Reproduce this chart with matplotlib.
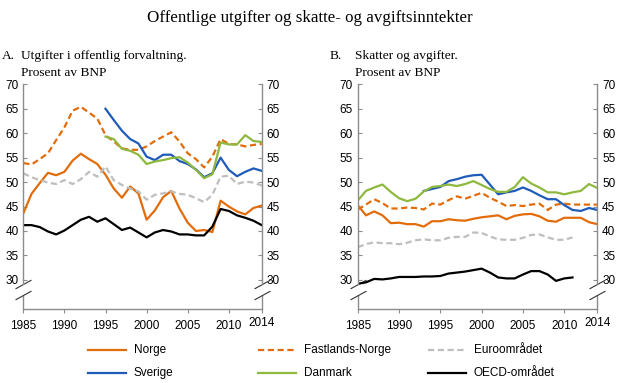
import matplotlib
matplotlib.use("Agg")
import matplotlib.pyplot as plt
from matplotlib.transforms import blended_transform_factory, ScaledTranslation
from matplotlib.lines import Line2D

years = list(range(1985, 2015))
years_se = list(range(1995, 2015))
years_se_b = list(range(1993, 2015))
years_short = list(range(1985, 2012))

# Panel A: Utgifter i offentlig forvaltning (prosent av BNP)
a_norge = [43.6, 47.6, 49.8, 51.9, 51.4, 52.1, 54.4, 55.8, 54.7, 53.7,
           51.5, 48.7, 46.8, 49.1, 47.7, 42.3, 44.2, 46.9, 48.2, 44.6,
           41.7, 40.0, 40.2, 39.8, 46.2, 45.0, 44.0, 43.4, 44.7, 45.2]
a_fastland = [53.9, 53.6, 54.7, 55.9, 58.6, 61.2, 64.6, 65.4, 64.2, 63.0,
              59.6, 58.3, 56.9, 56.6, 56.6, 57.3, 58.4, 59.3, 60.2, 58.3,
              55.9, 54.7, 53.0, 55.2, 58.8, 57.8, 57.7, 57.3, 57.6, 57.8]
a_euro = [51.8, 51.0, 50.4, 49.9, 49.6, 50.4, 49.6, 50.6, 52.1, 51.1,
          53.2, 50.4, 49.4, 48.7, 48.1, 46.4, 47.4, 47.7, 48.1, 47.6,
          47.4, 46.7, 45.9, 47.4, 51.1, 51.3, 49.6, 50.1, 49.9, 49.3]
a_oecd = [41.2, 41.2, 40.8, 39.9, 39.3, 40.1, 41.2, 42.3, 42.9, 41.9,
          42.6, 41.4, 40.2, 40.7, 39.7, 38.7, 39.7, 40.2, 39.9, 39.3,
          39.3, 39.1, 39.1, 40.9, 44.5, 44.1, 43.2, 42.7, 42.1, 41.2]
a_sverige = [65.0, 62.7, 60.5, 58.8, 57.9, 55.2, 54.5, 55.6, 55.6, 54.3,
             53.7, 52.6, 51.0, 51.8, 55.0, 52.5, 51.2, 52.1, 52.8, 52.3]
a_danmark = [59.3, 58.8, 56.8, 56.4, 55.6, 53.7, 54.2, 54.5, 54.9, 55.1,
             54.0, 52.5, 50.8, 51.6, 58.1, 57.7, 57.7, 59.6, 58.4, 58.2]

# Panel B: Skatter og avgifter (prosent av BNP)
b_norge = [45.3, 43.2, 44.0, 43.2, 41.6, 41.7, 41.4, 41.4, 40.9, 42.0,
           42.0, 42.4, 42.2, 42.1, 42.5, 42.8, 43.0, 43.2, 42.4, 43.1,
           43.4, 43.5, 43.0, 42.1, 41.9, 42.7, 42.7, 42.7, 41.8, 41.4]
b_fastland = [44.4, 45.4, 46.5, 45.7, 44.6, 44.6, 44.8, 44.7, 44.4, 45.6,
              45.4, 46.3, 47.1, 46.6, 47.2, 47.8, 46.8, 46.0, 45.1, 45.3,
              45.1, 45.4, 45.6, 44.3, 45.4, 45.6, 45.4, 45.4, 45.4, 45.4]
b_euro = [36.7, 37.3, 37.7, 37.5, 37.5, 37.3, 37.6, 38.1, 38.3, 38.1,
          38.1, 38.6, 38.8, 38.8, 39.7, 39.6, 38.9, 38.3, 38.2, 38.2,
          38.6, 39.2, 39.3, 38.7, 38.2, 38.2, 38.7]
b_oecd = [29.2, 29.5, 30.2, 30.1, 30.3, 30.6, 30.6, 30.6, 30.7, 30.7,
          30.8, 31.3, 31.5, 31.7, 32.0, 32.3, 31.5, 30.5, 30.3, 30.3,
          31.1, 31.8, 31.8, 31.1, 29.8, 30.3, 30.5]
b_sverige = [48.2, 48.6, 49.0, 50.2, 50.6, 51.1, 51.4, 51.5, 49.5, 47.5,
             47.9, 48.2, 48.9, 48.2, 47.3, 46.5, 46.5, 45.3, 44.3, 44.1,
             44.7, 44.3]
b_danmark = [46.2, 48.2, 48.9, 49.5, 48.0, 46.7, 46.1, 46.6, 48.1, 49.0,
             49.2, 49.5, 49.2, 49.6, 50.2, 49.4, 48.6, 48.0, 48.0, 49.0,
             51.0, 49.7, 48.9, 47.9, 47.9, 47.5, 47.9, 48.2, 49.6, 48.8]

yticks = [30, 35, 40, 45, 50, 55, 60, 65, 70]
xticks = [1985, 1990, 1995, 2000, 2005, 2010, 2014]

title = "Offentlige utgifter og skatte- og avgiftsinntekter"
labels = ["Norge", "Fastlands-Norge", "Euroområdet",
          "Sverige", "Danmark", "OECD-området"]

c_norge = "#E36C0A"
c_sverige = "#1F5BB8"
c_danmark = "#8FB83E"
c_euro = "#BEBEBE"
c_oecd = "#000000"
c_spine = "#8C8C8C"
LW = 1.6
DASH = (2.8, 1.6)

plt.rcParams["font.family"] = ["Liberation Sans", "DejaVu Sans"]
serif = ["Liberation Serif", "DejaVu Serif"]

W, H = 620, 383
fig = plt.figure(figsize=(W / 100, H / 100), dpi=100)

top_px, bot_px = 84.3, 308.5
axA = fig.add_axes([23.3 / W, 1 - bot_px / H, (261.7 - 23.3) / W, (bot_px - top_px) / H])
axB = fig.add_axes([357.7 / W, 1 - bot_px / H, (597.3 - 357.7) / W, (bot_px - top_px) / H])

YMIN = 24.15
brk_hi, brk_lo = 29.15, 26.85


def style(ax):
    ax.set_xlim(1985, 2014)
    ax.set_ylim(YMIN, 70)
    ax.spines["top"].set_visible(False)
    for s in ["left", "right", "bottom"]:
        ax.spines[s].set_color(c_spine)
        ax.spines[s].set_linewidth(1.0)
    ax.spines["left"].set_bounds(brk_hi, 70)
    ax.spines["right"].set_bounds(brk_hi, 70)
    ax.set_yticks(yticks)
    ax.set_yticklabels([str(v) for v in yticks])
    ax.tick_params(axis="y", which="both", direction="in", length=3,
                   color=c_spine, left=True, right=True,
                   labelleft=True, labelright=True, labelsize=8.5, pad=3.5)
    ax.set_xticks(xticks)
    ax.set_xticklabels([str(v) for v in xticks])
    ax.tick_params(axis="x", direction="out", length=3, color=c_spine,
                   labelsize=8.5, pad=5)
    lab = ax.get_xticklabels()[-1]
    lab.set_transform(lab.get_transform() + ScaledTranslation(0, 3 / 100, fig.dpi_scale_trans))
    trans = blended_transform_factory(ax.transAxes, ax.transData)
    for xa in (0, 1):
        ax.plot([xa, xa], [YMIN, brk_lo], transform=trans, color=c_spine,
                lw=1.0, clip_on=False, solid_capstyle="butt")
        for yv in (brk_hi, brk_lo):
            ax.plot([xa], [yv], transform=trans, marker=[(-1, -0.55), (1, 0.55)],
                    markersize=11.5, mew=0.8, color="#333333", clip_on=False,
                    linestyle="none")


def draw(ax, norge, fastland, euro, oecd, sverige, danmark, yrs_se, yrs_short, yrs_dk):
    ax.plot(years, norge, color=c_norge, lw=LW, label=labels[0])
    ax.plot(years, fastland, color=c_norge, lw=LW, dashes=DASH, label=labels[1])
    ax.plot(yrs_short, euro, color=c_euro, lw=LW, dashes=DASH, label=labels[2])
    ax.plot(yrs_se, sverige, color=c_sverige, lw=LW, label=labels[3])
    ax.plot(yrs_dk, danmark, color=c_danmark, lw=LW, label=labels[4])
    ax.plot(yrs_short, oecd, color=c_oecd, lw=LW, label=labels[5])


style(axA)
style(axB)
draw(axA, a_norge, a_fastland, a_euro, a_oecd, a_sverige, a_danmark, years_se, years, years_se)
draw(axB, b_norge, b_fastland, b_euro, b_oecd, b_sverige, b_danmark, years_se_b, years_short, years)

fig.text(0.5, 1 - 18 / H, title, ha="center", va="center", fontsize=12.2, family=serif)
fs_sub = 9.6
fig.text(2 / W, 1 - 56 / H, "A.", ha="left", va="center", fontsize=fs_sub, family=serif)
fig.text(21 / W, 1 - 56 / H, "Utgifter i offentlig forvaltning.", ha="left", va="center", fontsize=fs_sub, family=serif)
fig.text(21 / W, 1 - 73 / H, "Prosent av BNP", ha="left", va="center", fontsize=fs_sub, family=serif)
fig.text(330 / W, 1 - 56 / H, "B.", ha="left", va="center", fontsize=fs_sub, family=serif)
fig.text(355 / W, 1 - 56 / H, "Skatter og avgifter.", ha="left", va="center", fontsize=fs_sub, family=serif)
fig.text(355 / W, 1 - 73 / H, "Prosent av BNP", ha="left", va="center", fontsize=fs_sub, family=serif)

# Legend (two rows x three columns)
hs, ls = axA.get_legend_handles_labels()
handles = dict(zip(ls, hs))
col_x = [88, 258, 428]
row_y = [350, 373]
order = [["Norge", "Fastlands-Norge", "Euroområdet"],
         ["Sverige", "Danmark", "OECD-området"]]
for r, row in enumerate(order):
    for c, name in enumerate(row):
        h = handles[name]
        x0 = col_x[c]
        y = 1 - row_y[r] / H
        ln = Line2D([x0 / W, (x0 + 38) / W], [y, y], transform=fig.transFigure,
                    color=h.get_color(), lw=LW)
        if name in ("Fastlands-Norge", "Euroområdet"):
            ln.set_dashes(DASH)
        fig.add_artist(ln)
        fig.text((x0 + 46) / W, y, name, ha="left", va="center", fontsize=8.5)

fig.savefig("out.png", dpi=100)
